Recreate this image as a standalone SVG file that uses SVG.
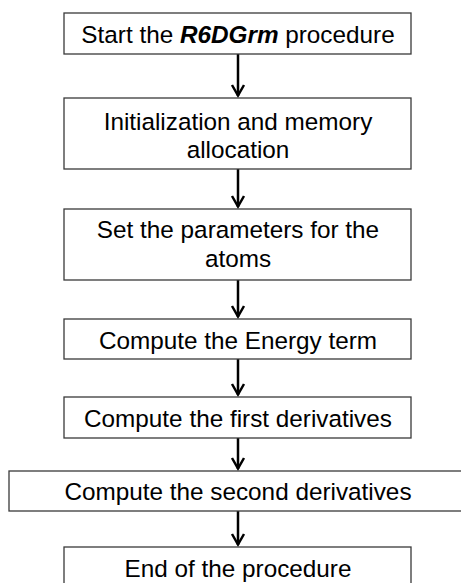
<svg xmlns="http://www.w3.org/2000/svg" width="461" height="583" viewBox="0 0 461 583">
<defs>
<marker id="ah" markerWidth="14" markerHeight="16" refX="12" refY="7" orient="auto" markerUnits="userSpaceOnUse" viewBox="0 0 14 14">
<path d="M1,1 L11.5,7 L1,13" fill="none" stroke="#000" stroke-width="2.5"/>
</marker>
</defs>
<style>
.box{fill:#fff;stroke:#3a3a3a;stroke-width:1.3}
.t{font-family:"Liberation Sans",Arial,sans-serif;font-size:24.3px;fill:#000;text-anchor:middle}
.c{stroke:#000;stroke-width:2.5;fill:none}
</style>
<rect width="461" height="583" fill="#fff"/>
<g id="connectors">
<line class="c" x1="238" y1="54" x2="238" y2="96" marker-end="url(#ah)"/>
<line class="c" x1="238" y1="169" x2="238" y2="207" marker-end="url(#ah)"/>
<line class="c" x1="238" y1="280" x2="238" y2="317" marker-end="url(#ah)"/>
<line class="c" x1="238" y1="359" x2="238" y2="395" marker-end="url(#ah)"/>
<line class="c" x1="238" y1="438" x2="238" y2="469" marker-end="url(#ah)"/>
<line class="c" x1="238" y1="511" x2="238" y2="545" marker-end="url(#ah)"/>
</g>
<g id="n1"><rect class="box" x="64" y="13" width="347" height="41"/><text class="t" x="238" y="43">Start the <tspan font-weight="bold" font-style="italic">R6DGrm</tspan> procedure</text></g>
<g id="n2"><rect class="box" x="64" y="98" width="347" height="71"/><text class="t" x="238" y="130">Initialization and memory</text><text class="t" x="238" y="158">allocation</text></g>
<g id="n3"><rect class="box" x="64" y="209" width="347" height="71"/><text class="t" x="238" y="238">Set the parameters for the</text><text class="t" x="238" y="267">atoms</text></g>
<g id="n4"><rect class="box" x="64" y="319" width="347" height="40"/><text class="t" x="238" y="349">Compute the Energy term</text></g>
<g id="n5"><rect class="box" x="64" y="397" width="347" height="41"/><text class="t" x="238" y="427">Compute the first derivatives</text></g>
<g id="n6"><rect class="box" x="9" y="471" width="460" height="40"/><text class="t" x="238" y="500">Compute the second derivatives</text></g>
<g id="n7"><rect class="box" x="64" y="547" width="347" height="45"/><text class="t" x="238" y="577">End of the procedure</text></g>
</svg>
